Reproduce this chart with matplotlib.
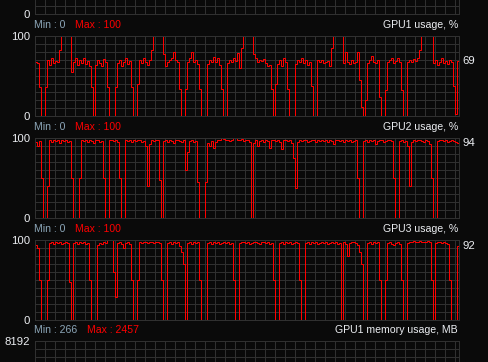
import numpy as np
import matplotlib
matplotlib.use("Agg")
import matplotlib.pyplot as plt
from matplotlib.transforms import blended_transform_factory

# --- data: one sample every 2 px of history ----------------------------------
gpu1_usage = [
    68, 66, 36, 0, 0, 36, 70, 64, 72, 66, 69, 67,
    82, 100, 100, 100, 100, 100, 55,
    68, 72, 64, 70, 66, 73, 65, 69, 62, 36, 0,
    64, 70, 66, 62, 71, 68, 36, 0, 0, 0, 36,
    66, 70, 63, 68, 72, 65, 69, 36, 0, 0, 40,
    70, 66, 72, 67, 64, 70, 82, 100, 100, 100, 100, 100, 78,
    63, 67, 70, 72, 80, 70, 68, 34, 0, 0, 34,
    68, 72, 80, 67, 70, 65, 34, 0, 0, 0, 65,
    70, 68, 74, 67, 72, 64, 34, 0, 0, 66,
    70, 68, 72, 69, 79, 60, 85, 100, 100, 100, 100, 100, 77,
    72, 68, 70, 69, 71, 66, 63, 64, 34, 0, 40,
    65, 70, 62, 72, 68, 34, 0, 0, 0, 65,
    70, 68, 73, 66, 70, 64, 68, 37, 0, 0, 70,
    68, 70, 66, 68, 69, 63, 85, 100, 100, 100, 100, 100, 66,
    80, 68, 65, 70, 66, 68, 80, 45, 11, 0, 20,
    66, 70, 75, 68, 66, 70, 24, 0, 0, 32,
    67, 70, 72, 66, 69, 73, 68, 32, 0, 0, 67,
    70, 68, 71, 69, 72, 82, 100, 100, 100, 100, 100, 100,
    66, 70, 64, 68, 72, 66, 69, 65, 70, 68, 37, 2, 69,
]

gpu2_usage = [
    95, 90, 96, 50, 0, 0, 40,
    97, 95, 98, 96, 97, 94, 98, 96, 97, 95, 96,
    50, 0, 0, 0, 50,
    97, 96, 98, 95, 97, 96, 94, 98, 97, 95, 96,
    50, 0, 0,
    97, 98, 96, 97, 95,
    50, 0, 0,
    97, 96, 98, 95, 97, 96, 98, 97, 95, 96, 90, 40,
    93, 97, 96, 98, 97, 47, 0,
    96, 97, 95, 98, 96, 94, 97, 98, 96, 95, 97, 60, 82,
    96, 97, 95, 96, 45, 0, 0, 0, 45,
    94, 90, 96, 87, 95, 97, 98, 100, 99, 97, 98, 96, 98, 100, 100, 98, 97, 99, 96, 98, 97, 95,
    0,
    94, 97, 90, 96, 98, 95, 97, 96, 88, 97, 98, 96, 97, 95, 86, 97, 98, 96, 97, 94,
    75, 37,
    95, 97, 96, 98, 97, 95, 96, 98, 97, 95, 97, 96,
    97, 96, 98, 95, 97, 96, 93, 97, 98, 96, 97, 95, 98, 96, 97, 95, 96, 97,
    50, 0, 0,
    96, 97, 95, 98, 96, 97, 92, 96, 98, 97, 95, 96, 98, 97, 96,
    50, 0, 0,
    96, 97, 95, 96, 90, 40,
    95, 97, 96, 98, 97, 96, 95, 97, 96, 92,
    50, 0, 0,
    96, 97, 98, 96, 97, 95, 96, 97, 96, 95, 94,
]

gpu3_usage = [
    94, 90, 50, 0, 0, 0, 50,
    96, 97, 95, 98, 96, 97, 95, 96, 98, 96,
    48, 0,
    96, 97, 95, 98, 96, 97, 95, 96,
    50, 0, 0, 0,
    94, 96, 95, 97, 96, 100, 100, 100, 60, 29,
    96, 97, 95, 90, 96, 97, 95, 50, 0, 0, 50,
    97, 96, 98, 97, 96, 98, 97, 96, 97, 98, 96,
    50, 0, 0,
    96, 97, 95, 98, 96, 97, 92, 85, 70, 0,
    96, 97, 95, 98, 96, 97, 50, 0, 0, 0,
    96, 97, 95, 98, 96, 97, 95, 96, 98, 96, 97, 95, 96, 50, 0, 0,
    96, 97, 98, 96, 97, 95, 96, 98, 97, 96, 95, 97, 98, 96, 97, 95, 96, 50, 0, 0,
    96, 97, 95, 98, 96, 97, 95, 96, 98, 96, 50, 0, 0,
    96, 97, 95, 98, 96, 97, 95, 96, 98, 96, 97, 95, 96, 97, 96, 97, 95, 96,
    0,
    97, 95, 80, 96, 97, 98, 96, 94, 85, 70, 0, 0,
    96, 97, 95, 98, 96, 97, 50, 0, 0, 50,
    96, 97, 95, 94, 96, 97, 95, 50, 0, 0,
    96, 97, 98, 99, 98, 97, 99, 98, 97, 98, 99, 97, 50, 0,
    96, 97, 98, 96, 97, 96, 95, 50, 0, 0, 0, 92,
]

titles = [None, "GPU1 usage, %", "GPU2 usage, %", "GPU3 usage, %", "GPU1 memory usage, MB"]
mins = [None, 0, 0, 0, 266]
maxs = [None, 100, 100, 100, 2457]
ranges = [100, 100, 100, 100, 8192]
series = [None, gpu1_usage, gpu2_usage, gpu3_usage, None]
# which of the (bottom, top) scale labels fall inside the window
show_labels = [(True, False), (True, True), (True, True), (True, True), (False, True)]

# --- layout (pixels) ---------------------------------------------------------
W, H = 489, 362
LEFT = 35
N_SAMPLES = 212
SAMPLE_PX = 2          # history graph advances 2 px per sample
PANEL_W = N_SAMPLES * SAMPLE_PX
PANEL_H = 80
tops = [-66, 36, 138, 240, 341]
PX = 0.72  # one pixel in points at 100 dpi
HALF = 0.5 / SAMPLE_PX  # keeps 1px strokes on pixel centres

BG = "#0a0a0a"
GRID = "#303030"
RED = "#ff0000"
MIN_C = "#8ca6b8"
TXT = "#eceef2"

plt.rcParams["font.family"] = ["Liberation Sans", "DejaVu Sans"]

fig = plt.figure(figsize=(W / 100, H / 100), dpi=100)
fig.patch.set_facecolor(BG)

for k, top in enumerate(tops):
    ax = fig.add_axes([LEFT / W, 1 - (top + PANEL_H) / H, PANEL_W / W, PANEL_H / H])
    ax.set_facecolor(BG)
    ymax = ranges[k]
    ax.set_xlim(-HALF, N_SAMPLES - HALF)
    ax.set_ylim(0, ymax)
    ax.set_xticks(np.arange(5, N_SAMPLES, 5))
    ax.set_xticklabels([])
    yt = np.linspace(0, ymax, 11)
    ax.set_yticks(yt)
    show_lo, show_hi = show_labels[k]
    labels = [""] * len(yt)
    if show_lo:
        labels[0] = "0"
    if show_hi:
        labels[-1] = str(ymax)
    ax.set_yticklabels(labels)
    ax.tick_params(length=0, labelsize=8.2, labelcolor=TXT, pad=3.5)
    ax.grid(True, color=GRID, lw=PX)
    for s in ax.spines.values():
        s.set_color(GRID)
        s.set_linewidth(PX)

    vals = series[k]
    if vals is not None:
        xs = np.arange(len(vals) + 1)
        ys = list(vals) + [vals[-1]]
        ax.plot(xs, ys, drawstyle="steps-post", color=RED, lw=PX, clip_on=False,
                snap=True, solid_joinstyle="miter")
        tr = blended_transform_factory(ax.transAxes, ax.transData)
        ax.text(1.008, vals[-1], str(vals[-1]), transform=tr, ha="left", va="center",
                fontsize=8.2, color=TXT)

    if titles[k] is not None:
        yf = 1 - (top - 11) / H
        t_min = fig.text(34 / W, yf, f"Min : {mins[k]}", ha="left", va="center",
                         fontsize=7.6, color=MIN_C)
        fig.text((LEFT + PANEL_W - 1) / W, yf, titles[k], ha="right", va="center",
                 fontsize=7.6, color=TXT)
        ax.annotate(f"Max : {maxs[k]}", xy=(1, 0.5), xycoords=t_min,
                    xytext=(7, 0), textcoords="offset points", ha="left", va="center",
                    fontsize=7.6, color=RED)

fig.savefig("out.png", dpi=100, facecolor=BG)
